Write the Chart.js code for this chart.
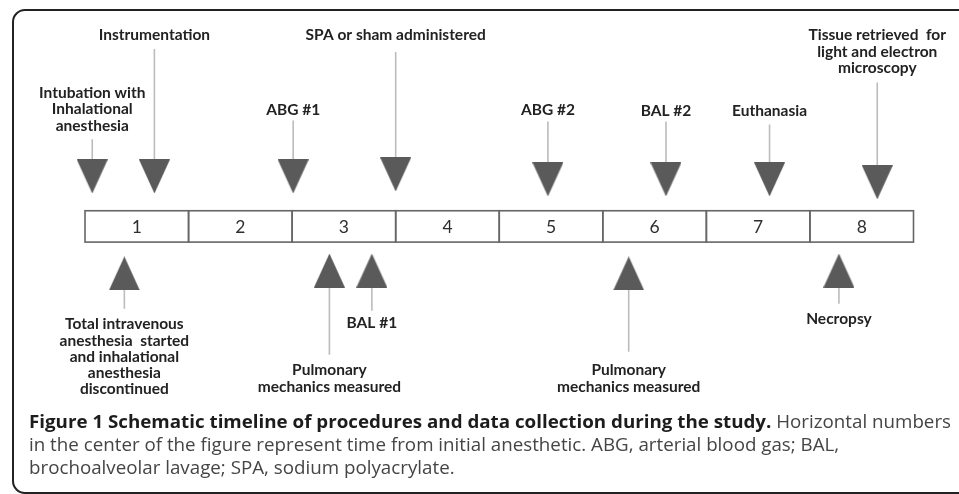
<!DOCTYPE html>
<html>
<head>
<meta charset="utf-8">
<script src="https://cdn.jsdelivr.net/npm/chart.js@4"></script>
<style>
    html, body { margin: 0; padding: 0; background: #fff; }
    body { width: 959px; height: 494px; position: relative; overflow: hidden; }
    #frame {
        position: absolute; left: 12px; top: 9px; width: 1000px; height: 481px;
        border: 2px solid #222; border-radius: 13px;
    }
    #timeline { position: absolute; left: 0; top: 0; }
    .cap {
        position: absolute; left: 29px; white-space: pre;
        font-family: "Open Sans", sans-serif; font-size: 18px; line-height: 22px;
        color: #454545; transform-origin: 0 0;
    }
    .cap b { color: #1c1c1c; font-weight: 700; }
</style>
</head>
<body>
<div id="frame"></div>
<canvas id="timeline" width="959" height="494"></canvas>
<div class="cap" id="cap1" style="top:410px"><b>Figure 1 Schematic timeline of procedures and data collection during the study.</b> Horizontal numbers</div>
<div class="cap" id="cap2" style="top:433px">in the center of the figure represent time from initial anesthetic. ABG, arterial blood gas; BAL,</div>
<div class="cap" id="cap3" style="top:456px">brochoalveolar lavage; SPA, sodium polyacrylate.</div>
<script>
// Time blocks along the centre bar (time from initial anesthetic).
const BLOCKS = ['1', '2', '3', '4', '5', '6', '7', '8'];

// Events marked above the bar (arrow points down onto it).
const ABOVE_EVENTS = [
    'Intubation with\nInhalational\nanesthesia',
    'Instrumentation',
    'ABG #1',
    'SPA or sham administered',
    'ABG #2',
    'BAL #2',
    'Euthanasia',
    'Tissue retrieved  for\nlight and electron\nmicroscopy',
];
const ABOVE_TIMES = [0.07, 0.67, 2.01, 3.0, 4.47, 5.61, 6.61, 7.65];

// Events marked below the bar (arrow points up at it).
const BELOW_EVENTS = [
    'Total intravenous\nanesthesia  started\nand inhalational\nanesthesia\ndiscontinued',
    'Pulmonary\nmechanics measured',
    'BAL #1',
    'Pulmonary\nmechanics measured',
    'Necropsy',
];
const BELOW_TIMES = [0.38, 2.36, 2.77, 5.25, 7.28];

// Layout only (vertical placement in page units, y grows downwards).
const ABOVE_LAYOUT = [
    { label: 90, shaft: 137, tri: 175 },
    { label: 31, shaft: 45, tri: 175 },
    { label: 107, shaft: 118, tri: 175 },
    { label: 31, shaft: 48, tri: 173 },
    { label: 107, shaft: 119, tri: 178 },
    { label: 108, shaft: 119, tri: 178 },
    { label: 108, shaft: 122, tri: 178 },
    { label: 31, shaft: 79, tri: 181 },
];
const BELOW_LAYOUT = [
    { label: 326, shaft: 310, tri: 274 },
    { label: 373, shaft: 357, tri: 271 },
    { label: 325, shaft: 312, tri: 271 },
    { label: 373, shaft: 354, tri: 274 },
    { label: 320, shaft: 305, tri: 271 },
];
const BAR_TOP = 210, BAR_BOTTOM = 242;
const LINE_H = 16.6;
const TRI_COLOR = '#5a5a5a';
const SHAFT_COLOR = '#bcbcbc';
const LABEL_FONT = 'bold 15.5px Lato, "Open Sans", sans-serif';

function makeTriangle(pointingDown) {
    const w = 31, h = 34;
    const c = document.createElement('canvas');
    c.width = w; c.height = h;
    const g = c.getContext('2d');
    g.fillStyle = TRI_COLOR;
    g.beginPath();
    if (pointingDown) {
        g.moveTo(0, 0); g.lineTo(w, 0); g.lineTo(w / 2, h);
    } else {
        g.moveTo(w / 2, 0); g.lineTo(w, h); g.lineTo(0, h);
    }
    g.closePath();
    g.fill();
    return c;
}

// Shaft segments separated by null gaps.
const shaftPoints = [];
ABOVE_TIMES.forEach((t, i) => {
    shaftPoints.push({ x: t, y: ABOVE_LAYOUT[i].shaft }, { x: t, y: ABOVE_LAYOUT[i].tri }, { x: t, y: null });
});
BELOW_TIMES.forEach((t, i) => {
    shaftPoints.push({ x: t, y: BELOW_LAYOUT[i].tri }, { x: t, y: BELOW_LAYOUT[i].shaft }, { x: t, y: null });
});

// Draws the numbered time blocks and the event labels from the chart's scales.
const timelinePlugin = {
    id: 'timeline',
    beforeDatasetsDraw(chart) {
        const { ctx, scales: { x, y } } = chart;
        const top = y.getPixelForValue(BAR_TOP), bottom = y.getPixelForValue(BAR_BOTTOM);
        ctx.save();
        ctx.strokeStyle = '#666';
        ctx.lineWidth = 1.6;
        ctx.fillStyle = '#2e2e2e';
        ctx.font = '17.5px Lato, "Open Sans", sans-serif';
        ctx.textAlign = 'center';
        ctx.textBaseline = 'middle';
        BLOCKS.forEach((label, i) => {
            const x0 = x.getPixelForValue(i), x1 = x.getPixelForValue(i + 1);
            ctx.strokeRect(x0, top, x1 - x0, bottom - top);
            ctx.fillText(label, (x0 + x1) / 2, (top + bottom) / 2 + 1);
        });
        ctx.restore();
    },
    afterDatasetsDraw(chart) {
        const { ctx, scales: { x, y } } = chart;
        ctx.save();
        ctx.fillStyle = '#222';
        ctx.font = LABEL_FONT;
        ctx.textAlign = 'center';
        ctx.textBaseline = 'middle';
        const put = (text, t, firstLine) => {
            text.split('\n').forEach((line, k) => {
                ctx.fillText(line, x.getPixelForValue(t), y.getPixelForValue(firstLine + k * LINE_H));
            });
        };
        ABOVE_EVENTS.forEach((txt, i) => put(txt, ABOVE_TIMES[i], ABOVE_LAYOUT[i].label));
        BELOW_EVENTS.forEach((txt, i) => put(txt, BELOW_TIMES[i], BELOW_LAYOUT[i].label));
        ctx.restore();
    },
};

new Chart(document.getElementById('timeline').getContext('2d'), {
    type: 'scatter',
    data: {
        datasets: [
            {
                label: 'above',
                data: ABOVE_TIMES.map((t, i) => ({ x: t, y: ABOVE_LAYOUT[i].tri })),
                pointStyle: makeTriangle(true),
                order: 0,
                clip: false,
            },
            {
                label: 'below',
                data: BELOW_TIMES.map((t, i) => ({ x: t, y: BELOW_LAYOUT[i].tri })),
                pointStyle: makeTriangle(false),
                order: 0,
                clip: false,
            },
            {
                type: 'line',
                label: 'shafts',
                data: shaftPoints,
                borderColor: SHAFT_COLOR,
                borderWidth: 1.6,
                pointRadius: 0,
                spanGaps: false,
                order: 1,
                clip: false,
            },
        ],
    },
    options: {
        responsive: false,
        animation: false,
        events: [],
        layout: { padding: { left: 85, right: 45.5, top: 0, bottom: 0 } },
        scales: {
            x: { type: 'linear', min: 0, max: BLOCKS.length, display: false },
            y: { type: 'linear', min: 0, max: 494, reverse: true, display: false },
        },
        plugins: { legend: { display: false }, tooltip: { enabled: false } },
    },
    plugins: [timelinePlugin],
});

// Caption face is a condensed humanist sans; squeeze Open Sans to the same measure.
const cap1 = document.getElementById('cap1');
const squeeze = 922 / cap1.getBoundingClientRect().width;
['cap1', 'cap2', 'cap3'].forEach((id) => {
    document.getElementById(id).style.transform = `scaleX(${squeeze})`;
});
</script>
</body>
</html>
